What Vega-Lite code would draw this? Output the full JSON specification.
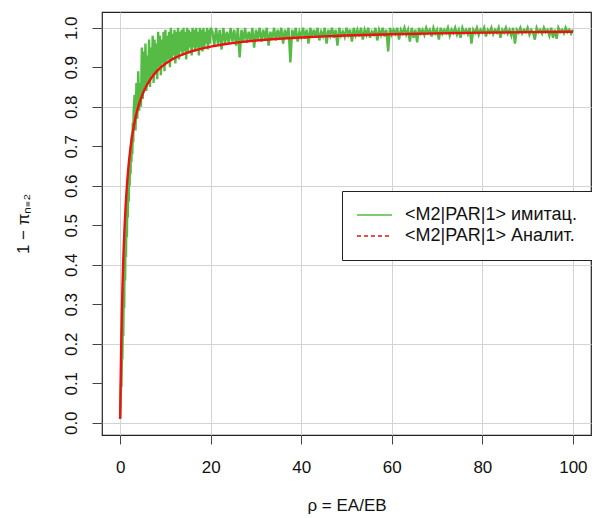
{
  "$schema": "https://vega.github.io/schema/vega-lite/v6.json",
  "width": 489,
  "height": 423,
  "autosize": {"type": "none"},
  "padding": {"left": 102, "top": 12, "right": 1, "bottom": 83},
  "background": "white",
  "config": {
    "font": "Liberation Sans",
    "view": {"stroke": "#222222", "strokeWidth": 1.2},
    "axis": {
      "domain": false,
      "labelFont": "Liberation Sans",
      "titleFont": "Liberation Sans",
      "labelFontSize": 17,
      "titleFontSize": 17,
      "labelColor": "#111111",
      "titleColor": "#111111",
      "titleFontWeight": "normal",
      "tickColor": "#444444",
      "tickSize": 9,
      "gridColor": "#d3d3d3",
      "gridWidth": 1
    },
    "legend": {"labelFont": "Liberation Sans"}
  },
  "datasets": {
    "sim": [
      {"rho":0.01,"p":0.01},{"rho":0.1,"p":0.05},{"rho":0.2,"p":0.10},{"rho":0.3,"p":0.09},{"rho":0.4,"p":0.17},{"rho":0.5,"p":0.16},{"rho":0.6,"p":0.26},{"rho":0.7,"p":0.22},{"rho":0.8,"p":0.34},{"rho":0.9,"p":0.29},
      {"rho":1.0,"p":0.42},{"rho":1.1,"p":0.36},{"rho":1.2,"p":0.48},{"rho":1.3,"p":0.42},{"rho":1.4,"p":0.53},{"rho":1.5,"p":0.47},{"rho":1.6,"p":0.57},{"rho":1.7,"p":0.52},{"rho":1.8,"p":0.61},{"rho":1.9,"p":0.56},
      {"rho":2.0,"p":0.64},{"rho":2.1,"p":0.60},{"rho":2.2,"p":0.67},{"rho":2.3,"p":0.63},{"rho":2.4,"p":0.70},{"rho":2.5,"p":0.66},{"rho":2.6,"p":0.73},{"rho":2.7,"p":0.68},{"rho":2.8,"p":0.76},{"rho":2.9,"p":0.71},
      {"rho":3.0,"p":0.79},{"rho":3.2,"p":0.83},{"rho":3.4,"p":0.74},{"rho":3.6,"p":0.86},{"rho":3.8,"p":0.77},{"rho":4.0,"p":0.89},{"rho":4.2,"p":0.79},{"rho":4.4,"p":0.86},{"rho":4.6,"p":0.80},{"rho":4.8,"p":0.95},
      {"rho":5.0,"p":0.82},{"rho":5.2,"p":0.94},{"rho":5.4,"p":0.85},{"rho":5.6,"p":0.96},{"rho":5.8,"p":0.84},{"rho":6.0,"p":0.93},{"rho":6.2,"p":0.86},{"rho":6.4,"p":0.97},{"rho":6.6,"p":0.85},{"rho":6.8,"p":0.95},
      {"rho":7.0,"p":0.88},{"rho":7.2,"p":0.98},{"rho":7.4,"p":0.86},{"rho":7.6,"p":0.97},{"rho":7.8,"p":0.89},{"rho":8.0,"p":0.96},{"rho":8.2,"p":0.87},{"rho":8.4,"p":0.99},{"rho":8.6,"p":0.90},{"rho":8.8,"p":0.98},
      {"rho":9.0,"p":0.88},{"rho":9.2,"p":0.97},{"rho":9.4,"p":0.91},{"rho":9.6,"p":0.99},{"rho":9.8,"p":0.89},{"rho":10.0,"p":0.995},{"rho":10.2,"p":0.91},{"rho":10.4,"p":0.98},{"rho":10.6,"p":0.92},{"rho":10.8,"p":0.99},
      {"rho":11.0,"p":0.90},{"rho":11.2,"p":1.0},{"rho":11.4,"p":0.92},{"rho":11.6,"p":0.985},{"rho":11.8,"p":0.93},{"rho":12.0,"p":0.995},{"rho":12.2,"p":0.91},{"rho":12.4,"p":0.99},{"rho":12.6,"p":0.93},{"rho":12.8,"p":1.0},
      {"rho":13.0,"p":0.92},{"rho":13.2,"p":0.99},{"rho":13.4,"p":0.94},{"rho":13.6,"p":0.995},{"rho":13.8,"p":0.93},{"rho":14.0,"p":1.0},{"rho":14.2,"p":0.94},{"rho":14.4,"p":0.99},{"rho":14.6,"p":0.92},{"rho":14.8,"p":1.0},
      {"rho":15.0,"p":0.94},{"rho":15.2,"p":0.995},{"rho":15.4,"p":0.95},{"rho":15.6,"p":0.99},{"rho":15.8,"p":0.93},{"rho":16.0,"p":1.0},{"rho":16.2,"p":0.95},{"rho":16.4,"p":0.995},{"rho":16.6,"p":0.94},{"rho":16.8,"p":1.0},
      {"rho":17.0,"p":0.95},{"rho":17.2,"p":0.99},{"rho":17.4,"p":0.93},{"rho":17.6,"p":1.0},{"rho":17.8,"p":0.95},{"rho":18.0,"p":0.995},{"rho":18.2,"p":0.94},{"rho":18.4,"p":1.0},{"rho":18.6,"p":0.95},{"rho":18.8,"p":0.99},
      {"rho":19.0,"p":0.96},{"rho":19.2,"p":1.0},{"rho":19.4,"p":0.945},{"rho":19.6,"p":0.995},{"rho":19.8,"p":0.96},{"rho":20.0,"p":1.0},
      {"rho":20.4,"p":0.99},{"rho":20.8,"p":0.955},{"rho":21.2,"p":1.0},{"rho":21.6,"p":0.958},{"rho":22.0,"p":0.995},{"rho":22.4,"p":0.945},{"rho":22.8,"p":1.0},{"rho":23.2,"p":0.962},{"rho":23.6,"p":0.99},{"rho":24.0,"p":0.96},
      {"rho":24.4,"p":1.0},{"rho":24.8,"p":0.965},{"rho":25.2,"p":0.995},{"rho":25.6,"p":0.955},{"rho":26.0,"p":1.0},{"rho":26.4,"p":0.925},{"rho":26.8,"p":0.995},{"rho":27.2,"p":0.966},{"rho":27.6,"p":1.0},{"rho":28.0,"p":0.962},
      {"rho":28.4,"p":0.99},{"rho":28.8,"p":0.967},{"rho":29.2,"p":1.0},{"rho":29.6,"p":0.95},{"rho":30.0,"p":0.995},{"rho":30.4,"p":0.97},{"rho":30.8,"p":1.0},{"rho":31.2,"p":0.965},{"rho":31.6,"p":0.995},{"rho":32.0,"p":0.972},
      {"rho":32.4,"p":1.0},{"rho":32.8,"p":0.955},{"rho":33.2,"p":0.99},{"rho":33.6,"p":0.97},{"rho":34.0,"p":1.0},{"rho":34.4,"p":0.968},{"rho":34.8,"p":0.995},{"rho":35.2,"p":0.974},{"rho":35.6,"p":1.0},{"rho":36.0,"p":0.96},
      {"rho":36.4,"p":0.995},{"rho":36.8,"p":0.973},{"rho":37.2,"p":1.0},{"rho":37.6,"p":0.912},{"rho":38.0,"p":0.995},{"rho":38.4,"p":0.975},{"rho":38.8,"p":1.0},{"rho":39.2,"p":0.965},{"rho":39.6,"p":0.99},{"rho":40.0,"p":0.977},
      {"rho":40.4,"p":1.0},{"rho":40.8,"p":0.972},{"rho":41.2,"p":0.995},{"rho":41.6,"p":0.96},{"rho":42.0,"p":1.0},{"rho":42.4,"p":0.978},{"rho":42.8,"p":0.995},{"rho":43.2,"p":0.975},{"rho":43.6,"p":1.0},{"rho":44.0,"p":0.968},
      {"rho":44.4,"p":0.99},{"rho":44.8,"p":0.979},{"rho":45.2,"p":1.0},{"rho":45.6,"p":0.96},{"rho":46.0,"p":0.995},{"rho":46.4,"p":0.98},{"rho":46.8,"p":1.0},{"rho":47.2,"p":0.975},{"rho":47.6,"p":0.995},{"rho":48.0,"p":0.955},
      {"rho":48.4,"p":1.0},{"rho":48.8,"p":0.98},{"rho":49.2,"p":0.99},{"rho":49.6,"p":0.977},{"rho":50.0,"p":1.0},{"rho":50.4,"p":0.982},{"rho":50.8,"p":0.995},{"rho":51.2,"p":0.965},{"rho":51.6,"p":1.0},{"rho":52.0,"p":0.981},
      {"rho":52.4,"p":0.995},{"rho":52.8,"p":0.978},{"rho":53.2,"p":1.0},{"rho":53.6,"p":0.97},{"rho":54.0,"p":0.995},{"rho":54.4,"p":0.982},{"rho":54.8,"p":1.0},{"rho":55.2,"p":0.975},{"rho":55.6,"p":0.99},{"rho":56.0,"p":0.983},
      {"rho":56.4,"p":1.0},{"rho":56.8,"p":0.968},{"rho":57.2,"p":0.995},{"rho":57.6,"p":0.982},{"rho":58.0,"p":1.0},{"rho":58.4,"p":0.978},{"rho":58.8,"p":0.995},{"rho":59.2,"p":0.94},{"rho":59.6,"p":1.0},{"rho":60.0,"p":0.983},
      {"rho":60.4,"p":0.995},{"rho":60.8,"p":0.985},{"rho":61.2,"p":1.0},{"rho":61.6,"p":0.97},{"rho":62.0,"p":0.995},{"rho":62.4,"p":0.986},{"rho":62.8,"p":1.0},{"rho":63.2,"p":0.983},{"rho":63.6,"p":0.995},{"rho":64.0,"p":0.965},
      {"rho":64.4,"p":1.0},{"rho":64.8,"p":0.975},{"rho":65.2,"p":0.995},{"rho":65.6,"p":0.963},{"rho":66.0,"p":1.0},{"rho":66.4,"p":0.986},{"rho":66.8,"p":0.995},{"rho":67.2,"p":0.982},{"rho":67.6,"p":1.0},{"rho":68.0,"p":0.987},
      {"rho":68.4,"p":0.995},{"rho":68.8,"p":0.978},{"rho":69.2,"p":1.0},{"rho":69.6,"p":0.986},{"rho":70.0,"p":0.995},{"rho":70.4,"p":0.97},{"rho":70.8,"p":1.0},{"rho":71.2,"p":0.985},{"rho":71.6,"p":0.995},{"rho":72.0,"p":0.987},
      {"rho":72.4,"p":1.0},{"rho":72.8,"p":0.98},{"rho":73.2,"p":0.995},{"rho":73.6,"p":0.987},{"rho":74.0,"p":1.0},{"rho":74.4,"p":0.983},{"rho":74.8,"p":0.995},{"rho":75.2,"p":0.975},{"rho":75.6,"p":1.0},{"rho":76.0,"p":0.987},
      {"rho":76.4,"p":0.995},{"rho":76.8,"p":0.984},{"rho":77.2,"p":1.0},{"rho":77.6,"p":0.96},{"rho":78.0,"p":0.995},{"rho":78.4,"p":0.987},{"rho":78.8,"p":1.0},{"rho":79.2,"p":0.982},{"rho":79.6,"p":0.995},{"rho":80.0,"p":0.988},
      {"rho":80.4,"p":1.0},{"rho":80.8,"p":0.978},{"rho":81.2,"p":0.995},{"rho":81.6,"p":0.988},{"rho":82.0,"p":1.0},{"rho":82.4,"p":0.984},{"rho":82.8,"p":0.995},{"rho":83.2,"p":0.988},{"rho":83.6,"p":1.0},{"rho":84.0,"p":0.975},
      {"rho":84.4,"p":0.995},{"rho":84.8,"p":0.988},{"rho":85.2,"p":1.0},{"rho":85.6,"p":0.985},{"rho":86.0,"p":0.995},{"rho":86.4,"p":0.98},{"rho":86.8,"p":1.0},{"rho":87.2,"p":0.96},{"rho":87.6,"p":0.995},{"rho":88.0,"p":0.988},
      {"rho":88.4,"p":1.0},{"rho":88.8,"p":0.986},{"rho":89.2,"p":0.995},{"rho":89.6,"p":0.989},{"rho":90.0,"p":1.0},{"rho":90.4,"p":0.983},{"rho":90.8,"p":0.995},{"rho":91.2,"p":0.988},{"rho":91.6,"p":0.97},{"rho":92.0,"p":1.0},
      {"rho":92.4,"p":0.989},{"rho":92.8,"p":0.995},{"rho":93.2,"p":0.985},{"rho":93.6,"p":1.0},{"rho":94.0,"p":0.989},{"rho":94.4,"p":0.995},{"rho":94.8,"p":0.98},{"rho":95.2,"p":1.0},{"rho":95.6,"p":0.975},{"rho":96.0,"p":0.995},
      {"rho":96.4,"p":0.972},{"rho":96.8,"p":1.0},{"rho":97.2,"p":0.989},{"rho":97.6,"p":0.995},{"rho":98.0,"p":0.986},{"rho":98.4,"p":1.0},{"rho":98.8,"p":0.989},{"rho":99.2,"p":0.995},{"rho":99.6,"p":0.985},{"rho":100.0,"p":0.995}
    ],
    "an": [
      {"rho":0.01,"p":0.0099},{"rho":0.05,"p":0.0476},{"rho":0.1,"p":0.0909},{"rho":0.15,"p":0.1304},{"rho":0.2,"p":0.1667},{"rho":0.3,"p":0.2308},{"rho":0.4,"p":0.2857},{"rho":0.5,"p":0.3333},{"rho":0.6,"p":0.375},{"rho":0.7,"p":0.4118},
      {"rho":0.8,"p":0.4444},{"rho":1,"p":0.5},{"rho":1.2,"p":0.5455},{"rho":1.4,"p":0.5833},{"rho":1.6,"p":0.6154},{"rho":1.8,"p":0.6429},{"rho":2,"p":0.6667},{"rho":2.3,"p":0.697},{"rho":2.6,"p":0.7222},{"rho":3,"p":0.75},
      {"rho":3.5,"p":0.7778},{"rho":4,"p":0.8},{"rho":4.5,"p":0.8182},{"rho":5,"p":0.8333},{"rho":5.5,"p":0.8462},{"rho":6,"p":0.8571},{"rho":7,"p":0.875},{"rho":8,"p":0.8889},{"rho":9,"p":0.9},{"rho":10,"p":0.9091},
      {"rho":11,"p":0.9167},{"rho":12,"p":0.9231},{"rho":13,"p":0.9286},{"rho":14,"p":0.9333},{"rho":16,"p":0.9412},{"rho":18,"p":0.9474},{"rho":20,"p":0.9524},{"rho":23,"p":0.9583},{"rho":26,"p":0.963},{"rho":30,"p":0.9677},
      {"rho":35,"p":0.9722},{"rho":40,"p":0.9756},{"rho":45,"p":0.9783},{"rho":50,"p":0.9804},{"rho":60,"p":0.9836},{"rho":70,"p":0.9859},{"rho":80,"p":0.9877},{"rho":90,"p":0.989},{"rho":100,"p":0.9901}
    ]
  },
  "layer": [
    {
      "data": {"name": "sim"},
      "mark": {"type": "line", "strokeWidth": 2.4},
      "encoding": {
        "x": {
          "field": "rho", "type": "quantitative",
          "scale": {"domain": [-4, 104], "nice": false, "zero": false},
          "axis": {"values": [0, 20, 40, 60, 80, 100], "grid": true, "title": "ρ = EA/EB", "labelPadding": 15, "titlePadding": 22}
        },
        "y": {
          "field": "p", "type": "quantitative",
          "scale": {"domain": [-0.031, 1.04], "nice": false, "zero": false},
          "axis": {
            "values": [0, 0.1, 0.2, 0.3, 0.4, 0.5, 0.6, 0.7, 0.8, 0.9, 1.0],
            "format": ".1f",
            "grid": true,
            "gridOpacity": {"condition": {"test": "round(datum.value*10) % 2 === 0", "value": 1}, "value": 0},
            "tickSize": 10,
            "labelAngle": -90, "labelAlign": "center", "labelBaseline": "bottom", "labelPadding": 12,
            "title": "1 − πₙ₌₂", "titlePadding": 30
          }
        },
        "color": {
          "datum": "<M2|PAR|1> имитац.",
          "scale": {"domain": ["<M2|PAR|1> имитац.", "<M2|PAR|1> Аналит."], "range": ["#55bb44", "#ee1111"]},
          "legend": {
            "orient": "none", "legendX": 240, "legendY": 179,
            "title": null,
            "symbolType": "M-2.5,0H2.5", "symbolSize": 196, "symbolStrokeWidth": 1.6,
            "labelFontSize": 18, "labelColor": "#111111", "labelOffset": 13, "labelLimit": 400,
            "padding": 15, "rowPadding": 3,
            "strokeColor": "#222222", "fillColor": "white",
            "encode": {
              "symbols": {"update": {"x": {"value": 17.5}, "fill": {"value": "transparent"}, "strokeDash": {"signal": "datum.value === '<M2|PAR|1> Аналит.' ? [4, 3] : [1, 0]"}}},
              "labels": {"update": {"x": {"value": 48}}}
            }
          }
        }
      }
    },
    {
      "data": {"name": "an"},
      "mark": {"type": "line", "strokeWidth": 2.4},
      "encoding": {
        "x": {"field": "rho", "type": "quantitative"},
        "y": {"field": "p", "type": "quantitative"},
        "color": {"datum": "<M2|PAR|1> Аналит."}
      }
    }
  ]
}
